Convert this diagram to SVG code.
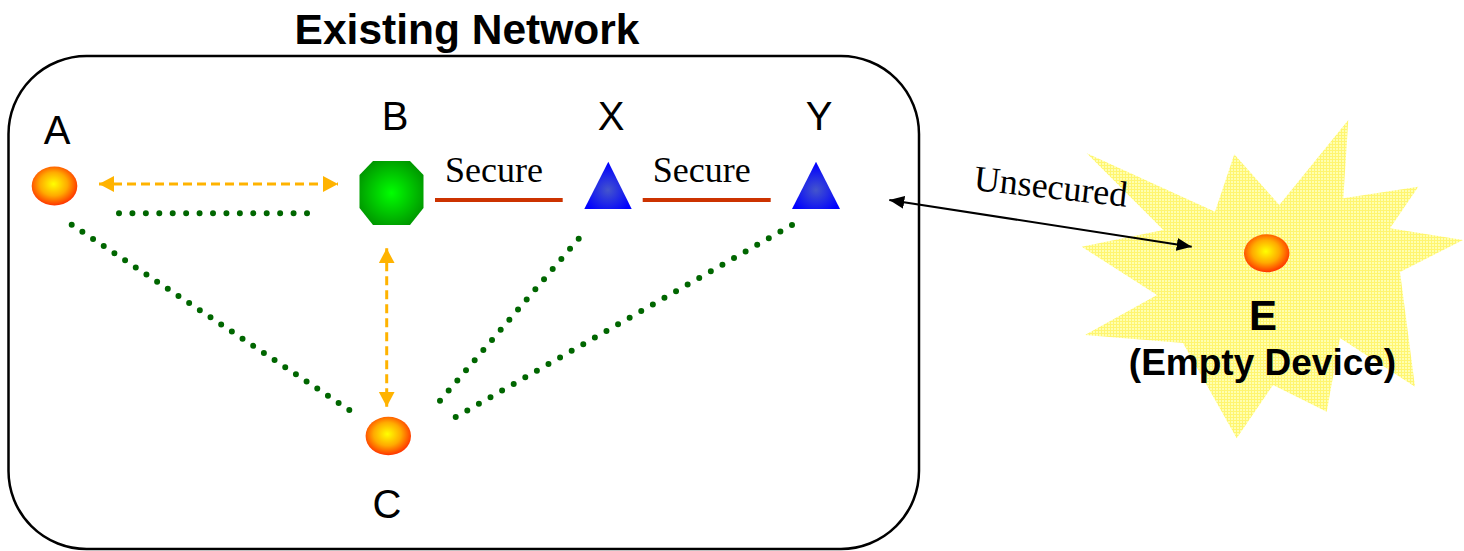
<svg xmlns="http://www.w3.org/2000/svg" width="1464" height="551" viewBox="0 0 1464 551">
  <defs>
    <style>
      .title { font-family: "Liberation Sans", Arial, sans-serif; font-weight: bold; font-size: 42.5px; fill: #000; }
      .label { font-family: "Liberation Sans", Arial, sans-serif; font-size: 40px; fill: #000; text-anchor: middle; }
      .serif { font-family: "Liberation Serif", "Times New Roman", serif; font-size: 36px; fill: #000; }
      .bold { font-family: "Liberation Sans", Arial, sans-serif; font-weight: bold; fill: #000; text-anchor: middle; }
      .dots { fill: none; stroke: #006600; stroke-width: 6; stroke-linecap: round; }
      .dash { fill: none; stroke: #FFB300; stroke-width: 3; stroke-dasharray: 9 5; }
      .secure { stroke: #CC3300; stroke-width: 4; }
    </style>
    <radialGradient id="gradOrange" cx="0.48" cy="0.45" r="0.55">
      <stop offset="0" stop-color="#FFFF00"/>
      <stop offset="0.55" stop-color="#FFAA00"/>
      <stop offset="1" stop-color="#FF3300"/>
    </radialGradient>
    <radialGradient id="gradGreen" cx="0.5" cy="0.5" r="0.55">
      <stop offset="0" stop-color="#00FF00"/>
      <stop offset="1" stop-color="#009900"/>
    </radialGradient>
    <radialGradient id="gradBlue" cx="0.5" cy="0.6" r="0.55">
      <stop offset="0" stop-color="#4455CC"/>
      <stop offset="1" stop-color="#0000FF"/>
    </radialGradient>
    <pattern id="texYellow" width="3" height="3" patternUnits="userSpaceOnUse">
      <rect width="3" height="3" fill="#FFFFB0"/>
      <rect width="3" height="1" fill="#FFF570"/>
      <rect width="1" height="3" fill="#FFF570"/>
    </pattern>
    <marker id="arrOrange" markerUnits="userSpaceOnUse" markerWidth="16" markerHeight="17" refX="15" refY="8" orient="auto-start-reverse">
      <path d="M0,0 L15,8 L0,16 z" fill="#FFB300"/>
    </marker>
    <marker id="arrBlack" markerUnits="userSpaceOnUse" markerWidth="16" markerHeight="14" refX="15" refY="6.5" orient="auto-start-reverse">
      <path d="M0,0 L15,6.5 L0,13 z" fill="#000"/>
    </marker>
  </defs>

  <rect x="0" y="0" width="1464" height="551" fill="#FFFFFF"/>

  <!-- network boundary -->
  <g id="existing-network">
    <rect x="8.5" y="56" width="910.5" height="493" rx="78" ry="78" fill="none" stroke="#000" stroke-width="2.5"/>
    <text class="title" x="467" y="44" text-anchor="middle">Existing Network</text>
  </g>

  <!-- device E area -->
  <g id="empty-device-area">
    <polygon fill="url(#texYellow)" points="1086.7,153.3 1215,211.7 1234.3,154.3 1279.3,205 1348.3,120 1343.3,198.3 1418.3,186.7 1390,228.3 1463,240 1400,272 1415,386.7 1340,338 1326.7,411.7 1273,385 1236.7,438.3 1183,343 1085,335 1157,295 1081.7,246.7 1163.3,230"/>
  </g>

  <!-- connectors (dotted lines run 1px past their last dot so it is drawn) -->
  <g id="connectors">
    <line class="dots" stroke-dasharray="0 13.4286" x1="119" y1="213.3" x2="308" y2="213.3"/>
    <line class="dots" stroke-dasharray="0 12.837" x1="71.7" y1="224.7" x2="350.13" y2="410.56"/>
    <line class="dots" stroke-dasharray="0 13.329" x1="578.7" y1="238.7" x2="439.35" y2="401.46"/>
    <line class="dots" stroke-dasharray="0 13.353" x1="792" y1="225" x2="454.83" y2="417.5"/>
    <line class="dash" x1="99" y1="184" x2="338" y2="184" marker-start="url(#arrOrange)" marker-end="url(#arrOrange)"/>
    <line class="dash" x1="386.7" y1="248.3" x2="386.7" y2="406.7" marker-start="url(#arrOrange)" marker-end="url(#arrOrange)"/>
    <line class="secure" x1="435" y1="200" x2="562.7" y2="200"/>
    <line class="secure" x1="642.7" y1="200" x2="770.7" y2="200"/>
    <text class="serif" x="445" y="182">Secure</text>
    <text class="serif" x="652.7" y="182">Secure</text>
    <line x1="889.3" y1="200" x2="1191.7" y2="246.7" stroke="#000" stroke-width="2" marker-start="url(#arrBlack)" marker-end="url(#arrBlack)"/>
    <text class="serif" x="973" y="190" transform="rotate(6.2 973 190)">Unsecured</text>
  </g>

  <g id="node-A">
    <ellipse cx="54.5" cy="186" rx="22.8" ry="19.5" fill="url(#gradOrange)"/>
    <text class="label" x="57" y="144">A</text>
  </g>

  <g id="node-B">
    <polygon fill="url(#gradGreen)" points="373,161 410,161 423.5,175 423.5,208 410,225 373,225 359.5,208 359.5,175"/>
    <text class="label" x="395" y="130">B</text>
  </g>

  <g id="node-X">
    <polygon fill="url(#gradBlue)" points="608.3,161.7 631.7,209 584.3,209"/>
    <text class="label" x="611" y="130">X</text>
  </g>

  <g id="node-Y">
    <polygon fill="url(#gradBlue)" points="816,161.7 840,209 792,209"/>
    <text class="label" x="819" y="130">Y</text>
  </g>

  <g id="node-C">
    <ellipse cx="388.3" cy="436" rx="22.7" ry="19.3" fill="url(#gradOrange)"/>
    <text class="label" x="387" y="518">C</text>
  </g>

  <g id="node-E">
    <ellipse cx="1266.7" cy="253.3" rx="22.7" ry="19" fill="url(#gradOrange)"/>
    <text class="bold" x="1263" y="330" font-size="42">E</text>
    <text class="bold" x="1262.5" y="375" font-size="37">(Empty Device)</text>
  </g>
</svg>
